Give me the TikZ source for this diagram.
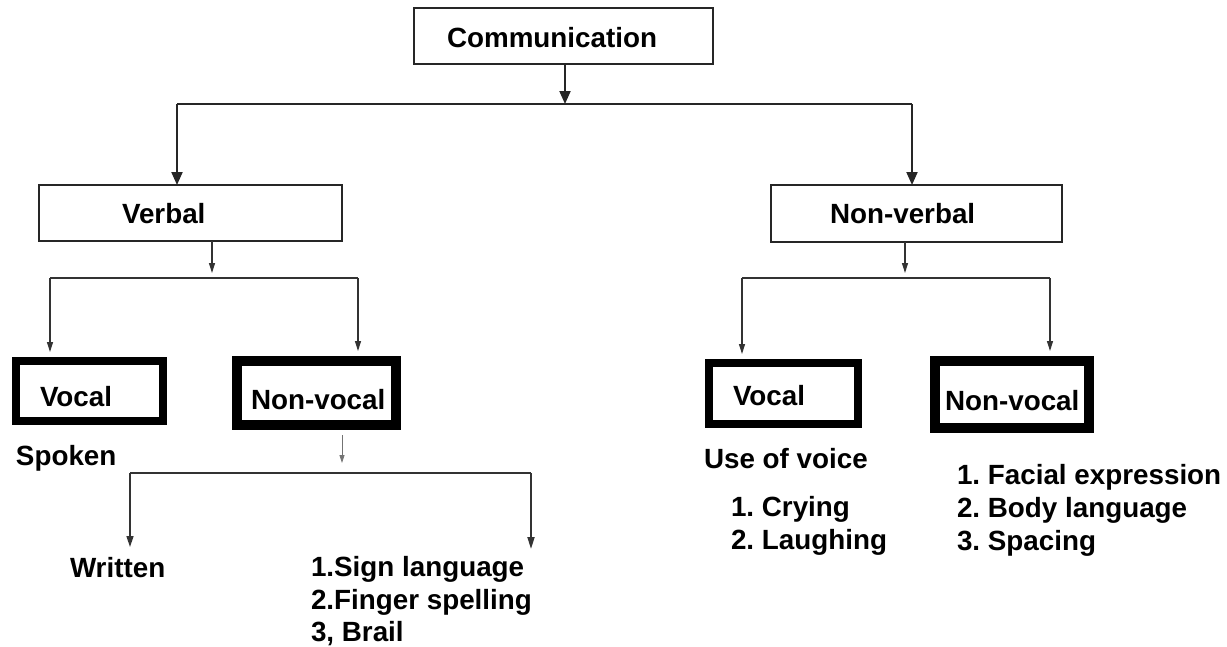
\documentclass[tikz,border=0pt]{standalone}
\usepackage{fontspec}
\setmainfont{Liberation Sans}
\usetikzlibrary{arrows.meta}
\frenchspacing
\begin{document}
\begin{tikzpicture}[x=1pt,y=-1pt,
  box/.style={draw=black!85, line width=1.6pt, rectangle, inner sep=0pt, outer sep=0pt, anchor=north west},
  heavybox/.style={draw=black, line width=#1, rectangle, inner sep=0pt, outer sep=0pt, anchor=north west},
  txt/.style={inner sep=0pt, outer sep=0pt, anchor=base west, font=\fontsize{27.8}{33}\selectfont\bfseries},
  bigarrow/.style={line width=2pt, draw=black!85, -{Triangle[width=11pt,length=13pt]}},
  biglink/.style={line width=2pt, draw=black!85},
  thinarrow/.style={line width=1.2pt, draw=black!80, -{Triangle[width=6pt,length=10pt]}},
  thinlink/.style={line width=1.2pt, draw=black!80},
  midarrow/.style={line width=1.8pt, draw=black!80, -{Triangle[width=7pt,length=12pt]}},
]
\useasboundingbox[fill=white] (0,0) rectangle (1227,646);

% boxes
\node[box, minimum width=299pt, minimum height=56pt] (comm) at (414,8) {};
\node[box, minimum width=303pt, minimum height=56pt] (verbal) at (39,185) {};
\node[box, minimum width=291pt, minimum height=57pt] (nonverbal) at (771,185) {};
\node[heavybox=8pt, minimum width=147pt, minimum height=60pt] (vocL) at (16,361) {};
\node[heavybox=10pt, minimum width=159pt, minimum height=64pt] (nvocL) at (237,361) {};
\node[heavybox=8pt, minimum width=149pt, minimum height=61pt] (vocR) at (709,363) {};
\node[heavybox=10pt, minimum width=154pt, minimum height=67pt] (nvocR) at (935,361) {};

% box labels
\node[txt] (commt) at (447,47) {Communication};
\node[txt] (verbalt) at (122,223) {Verbal};
\node[txt] (nonverbalt) at (830,223) {Non-verbal};
\node[txt] (vocLt) at (40,406) {Vocal};
\node[txt] (nvocLt) at (251,409) {Non-vocal};
\node[txt] (vocRt) at (733,405) {Vocal};
\node[txt] (nvocRt) at (945,410) {Non-vocal};

% free text
\node[txt] (spoken) at (16,465) {Spoken};
\node[txt] (written) at (70,577) {Written};
\node[txt] (signA) at (311,576) {1.Sign language};
\node[txt] (signB) at (311,609) {2.Finger spelling};
\node[txt] (signC) at (311,641) {3, Brail};
\node[txt] (voice) at (704,468) {Use of voice};
\node[txt] (voiceA) at (731,516) {1. Crying};
\node[txt] (voiceB) at (731,549) {2. Laughing};
\node[txt] (nvA) at (957,484) {1. Facial expression};
\node[txt] (nvB) at (957,517) {2. Body language};
\node[txt] (nvC) at (957,550) {3. Spacing};

% junction points
\coordinate (j0) at (565,104);
\coordinate (j1) at (212,278);
\coordinate (j2) at (905,278);
\coordinate (j3) at (342,473);
\coordinate (wTip) at (130,547);
\coordinate (sTip) at (531,549);

% top level
\draw[bigarrow] (comm.south -| j0) -- (j0);
\draw[biglink] (j0 -| 177,0) -- (j0 -| 912,0);
\draw[bigarrow] (j0 -| 177,0) -- (verbal.north -| 177,0);
\draw[bigarrow] (j0 -| 912,0) -- (nonverbal.north -| 912,0);

% verbal branch
\draw[thinarrow] (verbal.south -| j1) -- ([yshift=5pt]j1);
\draw[thinlink] (j1 -| 50,0) -- (j1 -| 358,0);
\draw[thinarrow] (j1 -| 50,0) -- ([yshift=9pt]vocL.north -| 50,0);
\draw[thinarrow] (j1 -| 358,0) -- ([yshift=10pt]nvocL.north -| 358,0);

% non-verbal branch
\draw[thinarrow] (nonverbal.south -| j2) -- ([yshift=5pt]j2);
\draw[thinlink] (j2 -| 742,0) -- (j2 -| 1050,0);
\draw[thinarrow] (j2 -| 742,0) -- ([yshift=9pt]vocR.north -| 742,0);
\draw[thinarrow] (j2 -| 1050,0) -- ([yshift=10pt]nvocR.north -| 1050,0);

% non-vocal (verbal) branch
\draw[line width=0.8pt, draw=black!55, -{Triangle[width=5pt,length=8pt]}] ([yshift=-10pt]nvocL.south -| j3) -- ([yshift=10pt]j3);
\draw[line width=1.6pt, draw=black!80] (j3 -| wTip) -- (j3 -| sTip);
\draw[line width=1.6pt, draw=black!80, -{Triangle[width=7pt,length=11pt]}] (j3 -| wTip) -- (wTip);
\draw[midarrow] (j3 -| sTip) -- (sTip);
\end{tikzpicture}
\end{document}
